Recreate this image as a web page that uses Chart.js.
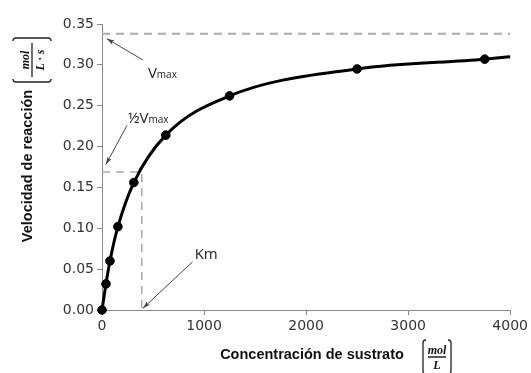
<!DOCTYPE html>
<html>
<head>
<meta charset="utf-8">
<script src="https://cdn.jsdelivr.net/npm/chart.js@4"></script>
<style>
  html, body { margin: 0; padding: 0; background: #fff; }
  #wrap { width: 531px; height: 373px; position: relative; }
</style>
</head>
<body>
<div id="wrap"><canvas id="mmChart"></canvas></div>
<script>
// substrate concentration (mol/L) and measured velocity (mol/L·s)
const concentration = [0, 39, 78, 156, 312, 625, 1250, 2500, 3750, 4000];
const velocity = [0, 0.032, 0.06, 0.102, 0.156, 0.214, 0.262, 0.295, 0.307, 0.31];
const hasMarker = [true, true, true, true, true, true, true, true, true, false];

const vmax = 0.338;
const halfVmax = 0.169;
const km = 390;

const xTicks = [0, 1000, 2000, 3000, 4000];
const yTicks = [0, 0.05, 0.1, 0.15, 0.2, 0.25, 0.3, 0.35];

// labels with arrows, in data coordinates
const notes = [
  { main: "V", sub: "max", at: [450, 0.284], tail: [400, 0.306], tip: [48, 0.332] },
  { main: "½V", sub: "max", at: [255, 0.229], tail: [245, 0.226], tip: [38, 0.178] },
  { main: "Km", sub: "", at: [908, 0.063], tail: [888, 0.059], tip: [400, 0.002] },
];

const drawArrow = (ctx, x1, y1, x2, y2) => {
  const ang = Math.atan2(y2 - y1, x2 - x1);
  ctx.beginPath();
  ctx.moveTo(x1, y1);
  ctx.lineTo(x2, y2);
  ctx.stroke();
  ctx.beginPath();
  ctx.moveTo(x2, y2);
  ctx.lineTo(x2 - 8 * Math.cos(ang - 0.3), y2 - 8 * Math.sin(ang - 0.3));
  ctx.lineTo(x2 - 6 * Math.cos(ang), y2 - 6 * Math.sin(ang));
  ctx.lineTo(x2 - 8 * Math.cos(ang + 0.3), y2 - 8 * Math.sin(ang + 0.3));
  ctx.closePath();
  ctx.fill();
};

// "[ mol / den ]" unit, centred on 0,0 of the current transform
const drawUnit = (ctx, den, halfW, halfH) => {
  ctx.strokeStyle = "#222";
  ctx.lineWidth = 1.3;
  ctx.beginPath();
  ctx.moveTo(-halfW + 3, -halfH);
  ctx.quadraticCurveTo(-halfW, -halfH, -halfW, -halfH + 3);
  ctx.lineTo(-halfW, halfH - 3);
  ctx.quadraticCurveTo(-halfW, halfH, -halfW + 3, halfH);
  ctx.moveTo(halfW - 3, -halfH);
  ctx.quadraticCurveTo(halfW, -halfH, halfW, -halfH + 3);
  ctx.lineTo(halfW, halfH - 3);
  ctx.quadraticCurveTo(halfW, halfH, halfW - 3, halfH);
  ctx.moveTo(-halfW + 5, 0);
  ctx.lineTo(halfW - 5, 0);
  ctx.stroke();
  ctx.fillStyle = "#111";
  ctx.font = "bold italic 12px 'Liberation Serif'";
  ctx.textAlign = "center";
  ctx.textBaseline = "alphabetic";
  ctx.fillText("mol", 0, -3);
  ctx.fillText(den, 0, 12);
};

const annotate = {
  id: "annotate",
  afterDraw(chart) {
    const { ctx, scales } = chart;
    const sx = scales.x;
    const sy = scales.y;
    ctx.save();

    notes.forEach((n) => {
      ctx.strokeStyle = "#444";
      ctx.fillStyle = "#444";
      ctx.lineWidth = 1;
      drawArrow(
        ctx,
        sx.getPixelForValue(n.tail[0]), sy.getPixelForValue(n.tail[1]),
        sx.getPixelForValue(n.tip[0]), sy.getPixelForValue(n.tip[1])
      );
      const tx = sx.getPixelForValue(n.at[0]);
      const ty = sy.getPixelForValue(n.at[1]);
      ctx.fillStyle = "#222";
      ctx.textAlign = "left";
      ctx.textBaseline = "alphabetic";
      ctx.font = "15px 'Open Sans'";
      ctx.fillText(n.main, tx, ty);
      const w = ctx.measureText(n.main).width;
      ctx.font = "10px 'Open Sans'";
      ctx.fillText(n.sub, tx + w, ty);
    });

    // axis titles
    ctx.fillStyle = "#111";
    ctx.font = "bold 14.5px 'Liberation Sans'";
    ctx.textAlign = "center";
    ctx.textBaseline = "middle";
    ctx.fillText("Concentración de sustrato", 312, 355);
    ctx.save();
    ctx.translate(28, 166);
    ctx.rotate(-Math.PI / 2);
    ctx.fillText("Velocidad de reacción", 0, 0);
    ctx.restore();

    ctx.save();
    ctx.translate(437, 357);
    drawUnit(ctx, "L", 14, 17);
    ctx.restore();

    ctx.save();
    ctx.translate(32, 60);
    ctx.rotate(-Math.PI / 2);
    drawUnit(ctx, "L · s", 22, 19);
    ctx.restore();

    ctx.restore();
  },
};

const dashed = {
  borderColor: "#aaa",
  borderWidth: 2,
  borderDash: [8, 6],
  pointRadius: 0,
  fill: false,
  clip: false,
};

new Chart(document.getElementById("mmChart"), {
  type: "line",
  data: {
    datasets: [
      {
        data: concentration.map((c, i) => ({ x: c, y: velocity[i] })),
        borderColor: "#000",
        borderWidth: 3,
        backgroundColor: "#000",
        pointBackgroundColor: "#000",
        pointBorderWidth: 1,
        pointRadius: hasMarker.map((m) => (m ? 4.3 : 0)),
        cubicInterpolationMode: "monotone",
        clip: false,
      },
      {
        ...dashed,
        data: [{ x: 0, y: vmax }, { x: xTicks[xTicks.length - 1], y: vmax }],
      },
      {
        ...dashed,
        borderWidth: 1.5,
        data: [{ x: 0, y: halfVmax }, { x: km, y: halfVmax }, { x: km, y: 0 }],
      },
    ],
  },
  options: {
    responsive: true,
    maintainAspectRatio: false,
    animation: false,
    layout: { padding: { left: 0, right: 19, top: 24, bottom: 0 } },
    plugins: { legend: { display: false }, tooltip: { enabled: false } },
    scales: {
      x: {
        type: "linear",
        min: xTicks[0],
        max: xTicks[xTicks.length - 1],
        afterBuildTicks: (s) => { s.ticks = xTicks.map((v) => ({ value: v })); },
        afterFit: (s) => { s.height = 63; },
        grid: { drawOnChartArea: false, color: "#888", tickLength: 5 },
        border: { color: "#888" },
        ticks: {
          color: "#333",
          padding: 3,
          maxRotation: 0,
          font: { family: "DejaVu Sans", size: 14 },
          callback: (v) => String(v),
        },
      },
      y: {
        type: "linear",
        min: yTicks[0],
        max: yTicks[yTicks.length - 1],
        afterBuildTicks: (s) => { s.ticks = yTicks.map((v) => ({ value: v })); },
        afterFit: (s) => { s.width = 102; },
        grid: { drawOnChartArea: false, color: "#888", tickLength: 5 },
        border: { color: "#888" },
        ticks: {
          color: "#333",
          padding: 3,
          font: { family: "DejaVu Sans", size: 14 },
          callback: (v) => v.toFixed(2),
        },
      },
    },
  },
  plugins: [annotate],
});
</script>
</body>
</html>
